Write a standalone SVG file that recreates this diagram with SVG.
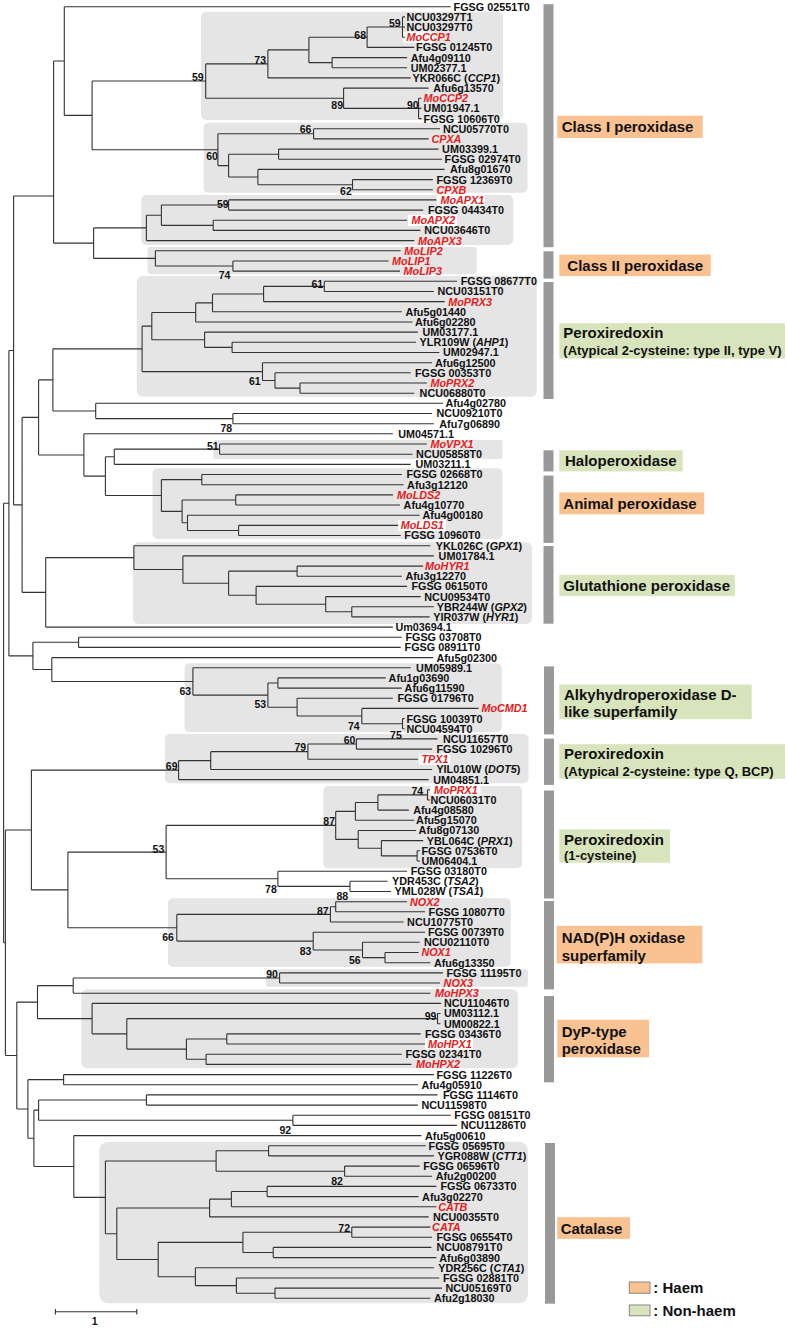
<svg xmlns="http://www.w3.org/2000/svg" width="787" height="1328" viewBox="0 0 787 1328">
<style>
.br{fill:none;stroke:#333;stroke-width:1.1}
text{font-family:"Liberation Sans",Arial,sans-serif;font-weight:bold;fill:#111}
.lf{font-size:10.8px}
.rd{fill:#e3201b;font-style:italic}
.bs{font-size:10.5px;text-anchor:end}
.cl{fill:#e5e5e5}
.wb{fill:#fff}
.bar{fill:#999}
.hm{fill:#fac191}
.nh{fill:#d8e4bc}
.ct{font-size:15px}
.cs{font-size:13px}
.sw{stroke:#888;stroke-width:1}
i{font-style:italic}
</style>
<g id="clade-boxes">
<rect class="cl" x="201.1" y="11.7" width="301.8" height="108.3" rx="5"/>
<rect class="cl" x="203.6" y="122.7" width="323.9" height="70" rx="5"/>
<rect class="cl" x="141.4" y="195" width="371.8" height="50" rx="5"/>
<rect class="cl" x="147.5" y="246.7" width="329.3" height="27.6" rx="4"/>
<rect class="cl" x="136.8" y="276" width="400" height="120.7" rx="6"/>
<rect class="cl" x="213.2" y="440" width="289.3" height="19" rx="2"/>
<rect class="cl" x="152.5" y="468.3" width="350" height="70.7" rx="5"/>
<rect class="cl" x="132.9" y="542.3" width="399.2" height="81.7" rx="6"/>
<rect class="cl" x="184.6" y="663.3" width="317.2" height="69" rx="5"/>
<rect class="cl" x="165" y="734" width="363.6" height="49.3" rx="5"/>
<rect class="cl" x="323.2" y="786" width="198.9" height="82.3" rx="5"/>
<rect class="cl" x="167.9" y="898.3" width="342.8" height="68.4" rx="5"/>
<rect class="cl" x="266.1" y="969.3" width="261.8" height="17.4" rx="2"/>
<rect class="cl" x="81.4" y="989.3" width="436.5" height="79" rx="6"/>
<rect class="cl" x="99.3" y="1141.7" width="428.6" height="161.6" rx="9"/>
<rect class="wb" x="403" y="31.7" width="31" height="11"/>
<rect class="wb" x="437" y="194.4" width="48" height="11"/>
<rect class="wb" x="408" y="214.8" width="49" height="11"/>
<rect class="wb" x="398" y="519.9" width="48" height="11"/>
<rect class="wb" x="419" y="753.8" width="31" height="11"/>
<rect class="wb" x="430.5" y="784.3" width="50" height="11"/>
<rect class="wb" x="425" y="1038.5" width="48" height="11"/>
</g>
<g id="connectors">
<path class="br" d="M402.5 16.9V37.2M402.5 16.9H405M402.5 27H405M402.5 37.2H405
M367.1 27V47.4M367.1 27H402.5M367.1 47.4H414.3
M332.1 57.6V67.7M332.1 57.6H407.1M332.1 67.7H407.1
M308.9 37.2V62.65M308.9 37.2H367.1M308.9 62.65H332.1
M267.9 49.9V77.9M267.9 49.9H308.9M267.9 77.9H410.7
M418.6 98.2V118.6M418.6 98.2H421.5M418.6 108.4H421.5M418.6 118.6H421.5
M343.6 88.1V108.4M343.6 88.1H428.6M343.6 108.4H418.6
M205.7 63.9V98.25M205.7 63.9H267.9M205.7 98.25H343.6
M313.6 128.7V138.9M313.6 128.7H440M313.6 138.9H428.6
M278.6 149.1V159.3M278.6 149.1H438.6M278.6 159.3H442.1
M352.5 179.6V189.8M352.5 179.6H432.9M352.5 189.8H432.9
M257.9 169.4V184.7M257.9 169.4H444.6M257.9 184.7H352.5
M228.6 154.2V177.05M228.6 154.2H278.6M228.6 177.05H257.9
M217.9 133.8V165.6M217.9 133.8H313.6M217.9 165.6H228.6
M92.1 81.05V149.7M92.1 81.05H205.7M92.1 149.7H217.9
M64.3 6.7V115.4M64.3 6.7H450.7M64.3 115.4H92.1
M228.6 199.9V210.1M228.6 199.9H436.4M228.6 210.1H423.2
M213.2 220.3V230.4M213.2 220.3H407.1M213.2 230.4H420.4
M161.4 205V225.35M161.4 205H228.6M161.4 225.35H213.2
M146.4 215.2V240.6M146.4 215.2H161.4M146.4 240.6H414.3
M232.9 261V271.1M232.9 261H388.6M232.9 271.1H400
M155.4 250.8V266.05M155.4 250.8H400.7M155.4 266.05H232.9
M93.6 227.9V258.4M93.6 227.9H146.4M93.6 258.4H155.4
M53.6 61.05V243.15M53.6 61.05H64.3M53.6 243.15H93.6
M324.3 281.3V291.5M324.3 281.3H457.1M324.3 291.5H433.9
M263.6 286.4V301.6M263.6 286.4H324.3M263.6 301.6H444.6
M212.5 294V311.8M212.5 294H263.6M212.5 311.8H401.8
M195.7 302.9V322M195.7 302.9H212.5M195.7 322H412.5
M232.1 342.3V352.5M232.1 342.3H416.1M232.1 352.5H439.3
M204.6 332.1V347.4M204.6 332.1H417.9M204.6 347.4H232.1
M151.8 312.45V339.75M151.8 312.45H195.7M151.8 339.75H204.6
M300 383V393.2M300 383H426.8M300 393.2H414.3
M275 372.8V388.1M275 372.8H410.7M275 388.1H300
M262.5 362.7V380.45M262.5 362.7H432.1M262.5 380.45H275
M142.1 326.1V371.6M142.1 326.1H151.8M142.1 371.6H262.5
M232.9 413.5V423.7M232.9 413.5H432.1M232.9 423.7H433.9
M95.7 403.3V418.6M95.7 403.3H442.9M95.7 418.6H232.9
M52.9 348.85V410.95M52.9 348.85H142.1M52.9 410.95H95.7
M219.6 444V454.2M219.6 444H426.8M219.6 454.2H412.5
M114.3 449.1V464.4M114.3 449.1H219.6M114.3 464.4H410.7
M201.8 474.5V484.7M201.8 474.5H401.8M201.8 484.7H403.6
M235.7 494.9V505M235.7 494.9H392.9M235.7 505H400
M238.6 525.4V535.5M238.6 525.4H398.2M238.6 535.5H400.7
M187.5 515.2V530.45M187.5 515.2H419.6M187.5 530.45H238.6
M182.1 499.95V522.8M182.1 499.95H235.7M182.1 522.8H187.5
M161.4 479.6V511.4M161.4 479.6H201.8M161.4 511.4H182.1
M105.4 456.75V495.5M105.4 456.75H114.3M105.4 495.5H161.4
M83.9 433.8V476.1M83.9 433.8H392.9M83.9 476.1H105.4
M38.6 379.9V454.95M38.6 379.9H52.9M38.6 454.95H83.9
M351.8 606.7V616.9M351.8 606.7H433.9M351.8 616.9H429.6
M325.7 596.6V611.8M325.7 596.6H420.7M325.7 611.8H351.8
M256.1 586.4V604.2M256.1 586.4H407.1M256.1 604.2H325.7
M297.1 566.1V576.2M297.1 566.1H423.2M297.1 576.2H401.8
M228.6 571.15V595.3M228.6 571.15H297.1M228.6 595.3H256.1
M182.9 555.9V583.2M182.9 555.9H433.9M182.9 583.2H228.6
M133.9 545.7V569.55M133.9 545.7H430.4M133.9 569.55H182.9
M45.7 557.6V627.1M45.7 557.6H133.9M45.7 627.1H392.9
M22.1 417.4V592.35M22.1 417.4H38.6M22.1 592.35H45.7
M13.6 196V504.9M13.6 196H53.6M13.6 504.9H22.1
M78.6 637.2V647.4M78.6 637.2H401.8M78.6 647.4H400.7
M277.9 677.9V688.1M277.9 677.9H385.7M277.9 688.1H401.8
M402.5 718.6V728.8M402.5 718.6H404.5M402.5 728.8H404.5
M361.8 708.4V723.7M361.8 708.4H478.6M361.8 723.7H402.5
M297.1 698.3V716.05M297.1 698.3H392.9M297.1 716.05H361.8
M267.9 683V707.2M267.9 683H277.9M267.9 707.2H297.1
M192.9 667.8V695.1M192.9 667.8H410.7M192.9 695.1H267.9
M51.8 657.6V681.45M51.8 657.6H433.2M51.8 681.45H192.9
M32.9 642.3V669.5M32.9 642.3H78.6M32.9 669.5H51.8
M8.9 350.45V655.9M8.9 350.45H13.6M8.9 655.9H32.9
M356.4 738.9V749.1M356.4 738.9H437.5M356.4 749.1H432.1
M307.9 744V759.3M307.9 744H356.4M307.9 759.3H417.9
M210.7 751.65V769.5M210.7 751.65H307.9M210.7 769.5H432.1
M178.6 760.6V779.6M178.6 760.6H210.7M178.6 779.6H428.6
M427.5 789.8V800M427.5 789.8H430M427.5 800H430
M377.9 794.9V810.1M377.9 794.9H427.5M377.9 810.1H408.9
M355.4 802.5V820.3M355.4 802.5H377.9M355.4 820.3H414.3
M417.1 850.8V861M417.1 850.8H420M417.1 861H420
M381.4 840.6V855.9M381.4 840.6H423.2M381.4 855.9H417.1
M358.2 830.5V848.25M358.2 830.5H416.1M358.2 848.25H381.4
M335.7 811.4V839.4M335.7 811.4H355.4M335.7 839.4H358.2
M350 881.3V891.5M350 881.3H387.5M350 891.5H391.1
M277.9 871.2V886.4M277.9 871.2H407.1M277.9 886.4H350
M166.1 825.4V878.8M166.1 825.4H335.7M166.1 878.8H277.9
M335.7 901.7V911.8M335.7 901.7H407.1M335.7 911.8H425
M330.4 906.75V922M330.4 906.75H335.7M330.4 922H403.6
M385 952.5V962.7M385 952.5H418.6M385 962.7H430.4
M362.5 942.3V957.6M362.5 942.3H419.6M362.5 957.6H385
M313.2 932.2V949.95M313.2 932.2H425M313.2 949.95H362.5
M176.8 914.4V941.1M176.8 914.4H330.4M176.8 941.1H313.2
M67.9 852.1V927.75M67.9 852.1H166.1M67.9 927.75H176.8
M31.4 770.1V889.9M31.4 770.1H178.6M31.4 889.9H67.9
M279.6 972.9V983M279.6 972.9H442.9M279.6 983H440
M73.2 977.95V993.2M73.2 977.95H279.6M73.2 993.2H430.4
M437.5 1013.5V1023.7M437.5 1013.5H440.5M437.5 1023.7H440.5
M226.8 1033.9V1044M226.8 1033.9H420.7M226.8 1044H425
M206.1 1054.2V1064.4M206.1 1054.2H401.8M206.1 1064.4H411.4
M186.4 1038.95V1059.3M186.4 1038.95H226.8M186.4 1059.3H206.1
M126.8 1018.6V1049.1M126.8 1018.6H437.5M126.8 1049.1H186.4
M92.1 1003.4V1033.85M92.1 1003.4H441.1M92.1 1033.85H126.8
M37.5 985.6V1018.6M37.5 985.6H73.2M37.5 1018.6H92.1
M63.6 1074.6V1084.7M63.6 1074.6H433.9M63.6 1084.7H417.9
M146.4 1094.9V1105.1M146.4 1094.9H437.5M146.4 1105.1H417.9
M292.9 1115.2V1125.4M292.9 1115.2H450.7M292.9 1125.4H457.1
M38.6 1100V1120.3M38.6 1100H146.4M38.6 1120.3H292.9
M268.6 1145.7V1155.9M268.6 1145.7H425.7M268.6 1155.9H433.9
M344.6 1166.1V1176.3M344.6 1166.1H419.6M344.6 1176.3H432.1
M216.1 1150.8V1171.2M216.1 1150.8H268.6M216.1 1171.2H344.6
M267.1 1186.4V1196.6M267.1 1186.4H436.4M267.1 1196.6H418.6
M231.4 1191.5V1206.8M231.4 1191.5H267.1M231.4 1206.8H436.4
M209.6 1199.15V1216.9M209.6 1199.15H231.4M209.6 1216.9H428.6
M351.8 1227.1V1237.3M351.8 1227.1H430.4M351.8 1237.3H432.1
M273.2 1247.4V1257.6M273.2 1247.4H431.4M273.2 1257.6H436.4
M242.9 1232.2V1252.5M242.9 1232.2H351.8M242.9 1252.5H273.2
M275 1288.1V1298.3M275 1288.1H442.1M275 1298.3H430.4
M236.4 1278V1293.2M236.4 1278H439.3M236.4 1293.2H275
M195.4 1267.8V1285.6M195.4 1267.8H433.9M195.4 1285.6H236.4
M158.2 1242.35V1276.7M158.2 1242.35H242.9M158.2 1276.7H195.4
M116.8 1208V1259.5M116.8 1208H209.6M116.8 1259.5H158.2
M105.4 1161V1233.75M105.4 1161H216.1M105.4 1233.75H116.8
M73.8 1135.6V1197.4M73.8 1135.6H421.4M73.8 1197.4H105.4
M33.9 1110.15V1166.5M33.9 1110.15H38.6M33.9 1166.5H73.8
M27.9 1079.65V1138.3M27.9 1079.65H63.6M27.9 1138.3H33.9
M16.8 1002.1V1109M16.8 1002.1H37.5M16.8 1109H27.9
M5.4 830V1055.55M5.4 830H31.4M5.4 1055.55H16.8
M3.6 503.2V942.8M3.6 503.2H8.9M3.6 942.8H5.4"/>
</g>
<g id="bootstrap">
<text class="bs" x="203.6" y="80.5">59</text>
<text class="bs" x="266" y="63.5">73</text>
<text class="bs" x="366" y="38.5">68</text>
<text class="bs" x="400.7" y="27">59</text>
<text class="bs" x="343" y="108.5">89</text>
<text class="bs" x="418.6" y="108.5">90</text>
<text class="bs" x="311.4" y="132.5">66</text>
<text class="bs" x="217.9" y="159.5">60</text>
<text class="bs" x="351.8" y="194.5">62</text>
<text class="bs" x="228.6" y="207.5">59</text>
<text class="bs" x="230.4" y="278.5">74</text>
<text class="bs" x="323.2" y="287.5">61</text>
<text class="bs" x="260.7" y="385">61</text>
<text class="bs" x="232.1" y="432">78</text>
<text class="bs" x="218.6" y="450">51</text>
<text class="bs" x="191.1" y="695">63</text>
<text class="bs" x="266.1" y="708">53</text>
<text class="bs" x="359.6" y="730">74</text>
<text class="bs" x="401.8" y="738.5">75</text>
<text class="bs" x="355.4" y="744">60</text>
<text class="bs" x="306.1" y="750.8">79</text>
<text class="bs" x="177.5" y="769.5">69</text>
<text class="bs" x="423.2" y="795">74</text>
<text class="bs" x="335" y="825">87</text>
<text class="bs" x="164.3" y="853">53</text>
<text class="bs" x="276.8" y="893">78</text>
<text class="bs" x="348.2" y="900">88</text>
<text class="bs" x="328.6" y="915">87</text>
<text class="bs" x="173.9" y="941">66</text>
<text class="bs" x="311.4" y="955">83</text>
<text class="bs" x="360.7" y="963.5">56</text>
<text class="bs" x="277.9" y="978">90</text>
<text class="bs" x="436.4" y="1019.5">99</text>
<text class="bs" x="291.1" y="1134">92</text>
<text class="bs" x="342.9" y="1184.5">82</text>
<text class="bs" x="350" y="1231.8">72</text>
</g>
<g id="leaves">
<g id="L1"><text class="lf" x="453.6" y="10.6">FGSG 02551T0</text></g>
<g id="L2"><text class="lf" x="406.4" y="20.8">NCU03297T1</text></g>
<g id="L3"><text class="lf" x="406.4" y="30.9">NCU03297T0</text></g>
<g id="L4"><text class="lf rd" x="406.4" y="41.1">MoCCP1</text></g>
<g id="L5"><text class="lf" x="416.1" y="51.3">FGSG 01245T0</text></g>
<g id="L6"><text class="lf" x="410.7" y="61.5">Afu4g09110</text></g>
<g id="L7"><text class="lf" x="410.7" y="71.6">UM02377.1</text></g>
<g id="L8"><text class="lf" x="412.5" y="81.8">YKR066C (<tspan font-style="italic">CCP1</tspan>)</text></g>
<g id="L9"><text class="lf" x="433.2" y="92">Afu6g13570</text></g>
<g id="L10"><text class="lf rd" x="423.6" y="102.1">MoCCP2</text></g>
<g id="L11"><text class="lf" x="423.6" y="112.3">UM01947.1</text></g>
<g id="L12"><text class="lf" x="423.6" y="122.5">FGSG 10606T0</text></g>
<g id="L13"><text class="lf" x="442.9" y="132.6">NCU05770T0</text></g>
<g id="L14"><text class="lf rd" x="431.4" y="142.8">CPXA</text></g>
<g id="L15"><text class="lf" x="442.1" y="153">UM03399.1</text></g>
<g id="L16"><text class="lf" x="444.6" y="163.2">FGSG 02974T0</text></g>
<g id="L17"><text class="lf" x="450" y="173.3">Afu8g01670</text></g>
<g id="L18"><text class="lf" x="436.4" y="183.5">FGSG 12369T0</text></g>
<g id="L19"><text class="lf rd" x="436.4" y="193.7">CPXB</text></g>
<g id="L20"><text class="lf rd" x="440.4" y="203.8">MoAPX1</text></g>
<g id="L21"><text class="lf" x="427.9" y="214">FGSG 04434T0</text></g>
<g id="L22"><text class="lf rd" x="411.4" y="224.2">MoAPX2</text></g>
<g id="L23"><text class="lf" x="424.3" y="234.3">NCU03646T0</text></g>
<g id="L24"><text class="lf rd" x="417.9" y="244.5">MoAPX3</text></g>
<g id="L25"><text class="lf rd" x="404.3" y="254.7">MoLIP2</text></g>
<g id="L26"><text class="lf rd" x="392.1" y="264.9">MoLIP1</text></g>
<g id="L27"><text class="lf rd" x="403.6" y="275">MoLIP3</text></g>
<g id="L28"><text class="lf" x="460.7" y="285.2">FGSG 08677T0</text></g>
<g id="L29"><text class="lf" x="437.5" y="295.4">NCU03151T0</text></g>
<g id="L30"><text class="lf rd" x="448.2" y="305.5">MoPRX3</text></g>
<g id="L31"><text class="lf" x="405.4" y="315.7">Afu5g01440</text></g>
<g id="L32"><text class="lf" x="415" y="325.9">Afu6g02280</text></g>
<g id="L33"><text class="lf" x="422.5" y="336">UM03177.1</text></g>
<g id="L34"><text class="lf" x="419.6" y="346.2">YLR109W (<tspan font-style="italic">AHP1</tspan>)</text></g>
<g id="L35"><text class="lf" x="442.9" y="356.4">UM02947.1</text></g>
<g id="L36"><text class="lf" x="435" y="366.6">Afu6g12500</text></g>
<g id="L37"><text class="lf" x="415" y="376.7">FGSG 00353T0</text></g>
<g id="L38"><text class="lf rd" x="430.4" y="386.9">MoPRX2</text></g>
<g id="L39"><text class="lf" x="419.6" y="397.1">NCU06880T0</text></g>
<g id="L40"><text class="lf" x="445.4" y="407.2">Afu4g02780</text></g>
<g id="L41"><text class="lf" x="436.4" y="417.4">NCU09210T0</text></g>
<g id="L42"><text class="lf" x="439.3" y="427.6">Afu7g06890</text></g>
<g id="L43"><text class="lf" x="398.2" y="437.7">UM04571.1</text></g>
<g id="L44"><text class="lf rd" x="430.4" y="447.9">MoVPX1</text></g>
<g id="L45"><text class="lf" x="416.1" y="458.1">NCU05858T0</text></g>
<g id="L46"><text class="lf" x="415.4" y="468.3">UM03211.1</text></g>
<g id="L47"><text class="lf" x="406.4" y="478.4">FGSG 02668T0</text></g>
<g id="L48"><text class="lf" x="407.1" y="488.6">Afu3g12120</text></g>
<g id="L49"><text class="lf rd" x="397.1" y="498.8">MoLDS2</text></g>
<g id="L50"><text class="lf" x="403.6" y="508.9">Afu4g10770</text></g>
<g id="L51"><text class="lf" x="422.5" y="519.1">Afu4g00180</text></g>
<g id="L52"><text class="lf rd" x="400.7" y="529.3">MoLDS1</text></g>
<g id="L53"><text class="lf" x="404.3" y="539.4">FGSG 10960T0</text></g>
<g id="L54"><text class="lf" x="435.7" y="549.6">YKL026C (<tspan font-style="italic">GPX1</tspan>)</text></g>
<g id="L55"><text class="lf" x="438.6" y="559.8">UM01784.1</text></g>
<g id="L56"><text class="lf rd" x="425" y="570">MoHYR1</text></g>
<g id="L57"><text class="lf" x="405.4" y="580.1">Afu3g12270</text></g>
<g id="L58"><text class="lf" x="411.4" y="590.3">FGSG 06150T0</text></g>
<g id="L59"><text class="lf" x="424.3" y="600.5">NCU09534T0</text></g>
<g id="L60"><text class="lf" x="436.8" y="610.6">YBR244W (<tspan font-style="italic">GPX2</tspan>)</text></g>
<g id="L61"><text class="lf" x="433.2" y="620.8">YIR037W (<tspan font-style="italic">HYR1</tspan>)</text></g>
<g id="L62"><text class="lf" x="395.4" y="631">Um03694.1</text></g>
<g id="L63"><text class="lf" x="405.4" y="641.1">FGSG 03708T0</text></g>
<g id="L64"><text class="lf" x="404.6" y="651.3">FGSG 08911T0</text></g>
<g id="L65"><text class="lf" x="436.4" y="661.5">Afu5g02300</text></g>
<g id="L66"><text class="lf" x="416.1" y="671.7">UM05989.1</text></g>
<g id="L67"><text class="lf" x="388.6" y="681.8">Afu1g03690</text></g>
<g id="L68"><text class="lf" x="404.6" y="692">Afu6g11590</text></g>
<g id="L69"><text class="lf" x="397.5" y="702.2">FGSG 01796T0</text></g>
<g id="L70"><text class="lf rd" x="481.4" y="712.3">MoCMD1</text></g>
<g id="L71"><text class="lf" x="406.4" y="722.5">FGSG 10039T0</text></g>
<g id="L72"><text class="lf" x="406.4" y="732.7">NCU04594T0</text></g>
<g id="L73"><text class="lf" x="442.9" y="742.8">NCU11657T0</text></g>
<g id="L74"><text class="lf" x="436.4" y="753">FGSG 10296T0</text></g>
<g id="L75"><text class="lf rd" x="421.4" y="763.2">TPX1</text></g>
<g id="L76"><text class="lf" x="436.4" y="773.4">YIL010W (<tspan font-style="italic">DOT5</tspan>)</text></g>
<g id="L77"><text class="lf" x="433.2" y="783.5">UM04851.1</text></g>
<g id="L78"><text class="lf rd" x="433.9" y="793.7">MoPRX1</text></g>
<g id="L79"><text class="lf" x="430.4" y="803.9">NCU06031T0</text></g>
<g id="L80"><text class="lf" x="413.2" y="814">Afu4g08580</text></g>
<g id="L81"><text class="lf" x="416.1" y="824.2">Afu5g15070</text></g>
<g id="L82"><text class="lf" x="418.6" y="834.4">Afu8g07130</text></g>
<g id="L83"><text class="lf" x="426.8" y="844.5">YBL064C (<tspan font-style="italic">PRX1</tspan>)</text></g>
<g id="L84"><text class="lf" x="421.4" y="854.7">FGSG 07536T0</text></g>
<g id="L85"><text class="lf" x="421.4" y="864.9">UM06404.1</text></g>
<g id="L86"><text class="lf" x="410.7" y="875.1">FGSG 03180T0</text></g>
<g id="L87"><text class="lf" x="392.1" y="885.2">YDR453C (<tspan font-style="italic">TSA2</tspan>)</text></g>
<g id="L88"><text class="lf" x="394.6" y="895.4">YML028W (<tspan font-style="italic">TSA1</tspan>)</text></g>
<g id="L89"><text class="lf rd" x="410" y="905.6">NOX2</text></g>
<g id="L90"><text class="lf" x="428.6" y="915.7">FGSG 10807T0</text></g>
<g id="L91"><text class="lf" x="407.1" y="925.9">NCU10775T0</text></g>
<g id="L92"><text class="lf" x="427.9" y="936.1">FGSG 00739T0</text></g>
<g id="L93"><text class="lf" x="423.9" y="946.2">NCU02110T0</text></g>
<g id="L94"><text class="lf rd" x="421.4" y="956.4">NOX1</text></g>
<g id="L95"><text class="lf" x="433.9" y="966.6">Afu6g13350</text></g>
<g id="L96"><text class="lf" x="446.4" y="976.8">FGSG 11195T0</text></g>
<g id="L97"><text class="lf rd" x="443.6" y="986.9">NOX3</text></g>
<g id="L98"><text class="lf rd" x="435" y="997.1">MoHPX3</text></g>
<g id="L99"><text class="lf" x="443.9" y="1007.3">NCU11046T0</text></g>
<g id="L100"><text class="lf" x="443.9" y="1017.4">UM03112.1</text></g>
<g id="L101"><text class="lf" x="443.9" y="1027.6">UM00822.1</text></g>
<g id="L102"><text class="lf" x="425" y="1037.8">FGSG 03436T0</text></g>
<g id="L103"><text class="lf rd" x="427.9" y="1047.9">MoHPX1</text></g>
<g id="L104"><text class="lf" x="405.4" y="1058.1">FGSG 02341T0</text></g>
<g id="L105"><text class="lf rd" x="416.1" y="1068.3">MoHPX2</text></g>
<g id="L106"><text class="lf" x="436.4" y="1078.5">FGSG 11226T0</text></g>
<g id="L107"><text class="lf" x="421.4" y="1088.6">Afu4g05910</text></g>
<g id="L108"><text class="lf" x="442.9" y="1098.8">FGSG 11146T0</text></g>
<g id="L109"><text class="lf" x="421.4" y="1109">NCU11598T0</text></g>
<g id="L110"><text class="lf" x="454.3" y="1119.1">FGSG 08151T0</text></g>
<g id="L111"><text class="lf" x="460.7" y="1129.3">NCU11286T0</text></g>
<g id="L112"><text class="lf" x="425" y="1139.5">Afu5g00610</text></g>
<g id="L113"><text class="lf" x="428.6" y="1149.6">FGSG 05695T0</text></g>
<g id="L114"><text class="lf" x="437.5" y="1159.8">YGR088W (<tspan font-style="italic">CTT1</tspan>)</text></g>
<g id="L115"><text class="lf" x="423.2" y="1170">FGSG 06596T0</text></g>
<g id="L116"><text class="lf" x="435.7" y="1180.2">Afu2g00200</text></g>
<g id="L117"><text class="lf" x="440.4" y="1190.3">FGSG 06733T0</text></g>
<g id="L118"><text class="lf" x="422.1" y="1200.5">Afu3g02270</text></g>
<g id="L119"><text class="lf rd" x="438.2" y="1210.7">CATB</text></g>
<g id="L120"><text class="lf" x="432.9" y="1220.8">NCU00355T0</text></g>
<g id="L121"><text class="lf rd" x="432.1" y="1231">CATA</text></g>
<g id="L122"><text class="lf" x="436.4" y="1241.2">FGSG 06554T0</text></g>
<g id="L123"><text class="lf" x="436.4" y="1251.3">NCU08791T0</text></g>
<g id="L124"><text class="lf" x="439.3" y="1261.5">Afu6g03890</text></g>
<g id="L125"><text class="lf" x="438.2" y="1271.7">YDR256C (<tspan font-style="italic">CTA1</tspan>)</text></g>
<g id="L126"><text class="lf" x="442.9" y="1281.9">FGSG 02881T0</text></g>
<g id="L127"><text class="lf" x="445.4" y="1292">NCU05169T0</text></g>
<g id="L128"><text class="lf" x="433.9" y="1302.2">Afu2g18030</text></g>
</g>
<g id="bars">
<rect class="bar" x="543.5" y="4.2" width="10" height="243"/>
<rect class="bar" x="543.5" y="251.3" width="10" height="27.3"/>
<rect class="bar" x="543.5" y="282" width="10" height="117"/>
<rect class="bar" x="543.5" y="450.3" width="10" height="21.1"/>
<rect class="bar" x="543.5" y="475.6" width="10" height="67.3"/>
<rect class="bar" x="543.5" y="546" width="10" height="77.7"/>
<rect class="bar" x="544" y="666.4" width="10" height="68"/>
<rect class="bar" x="544" y="738.6" width="10" height="46.3"/>
<rect class="bar" x="544" y="790.5" width="10" height="108"/>
<rect class="bar" x="544" y="901" width="10" height="88.4"/>
<rect class="bar" x="544" y="996" width="10" height="86.3"/>
<rect class="bar" x="545" y="1143" width="10" height="160.7"/>
</g>
<g id="cat-class1"><rect class="hm" x="557.3" y="115.7" width="145.4" height="22.3"/><text class="ct" x="561.7" y="132.2">Class I peroxidase</text></g>
<g id="cat-class2"><rect class="hm" x="559.3" y="254.6" width="151.4" height="21.5"/><text class="ct" x="567.3" y="270.8">Class II peroxidase</text></g>
<g id="cat-prx25"><rect class="nh" x="559.3" y="323.2" width="225.7" height="35.4"/><text class="ct" x="563.3" y="338">Peroxiredoxin</text><text class="cs" x="563.3" y="354.5">(Atypical 2-cysteine: type II, type V)</text></g>
<g id="cat-halo"><rect class="nh" x="559.3" y="450.3" width="123.4" height="21.1"/><text class="ct" x="565" y="466.3">Haloperoxidase</text></g>
<g id="cat-animal"><rect class="hm" x="559.3" y="492.4" width="145" height="21.9"/><text class="ct" x="563.3" y="508.7">Animal peroxidase</text></g>
<g id="cat-gpx"><rect class="nh" x="559.3" y="575" width="175.7" height="21"/><text class="ct" x="563.3" y="590.9">Glutathione peroxidase</text></g>
<g id="cat-ahpd"><rect class="nh" x="559.3" y="684.6" width="192.4" height="34.6"/><text class="ct" x="564" y="699.7">Alkyhydroperoxidase D-</text><text class="ct" x="564" y="716.5">like superfamily</text></g>
<g id="cat-prxq"><rect class="nh" x="559.3" y="744.2" width="225.7" height="34.6"/><text class="ct" x="564" y="759">Peroxiredoxin</text><text class="cs" x="564" y="775.8">(Atypical 2-cysteine: type Q, BCP)</text></g>
<g id="cat-prx1"><rect class="nh" x="559.3" y="829.4" width="110.7" height="33.3"/><text class="ct" x="564" y="844.5">Peroxiredoxin</text><text class="cs" x="564" y="860.3">(1-cysteine)</text></g>
<g id="cat-nox"><rect class="hm" x="556.7" y="925.8" width="145.6" height="37.6"/><text class="ct" x="561.7" y="943.1">NAD(P)H oxidase</text><text class="ct" x="561.7" y="960.8">superfamily</text></g>
<g id="cat-dyp"><rect class="hm" x="557.3" y="1019.7" width="91.7" height="37.6"/><text class="ct" x="561.7" y="1037">DyP-type</text><text class="ct" x="561.7" y="1054.3">peroxidase</text></g>
<g id="cat-catalase"><rect class="hm" x="557.3" y="1217.2" width="72.7" height="21.7"/><text class="ct" x="560.7" y="1233.5">Catalase</text></g>
<g id="legend">
<rect class="hm sw" x="629.3" y="1282" width="20.7" height="11.3"/><text class="ct" x="653.3" y="1292.5">: Haem</text>
<rect class="nh sw" x="629.3" y="1305" width="20.7" height="10.8"/><text class="ct" x="653.3" y="1315.5">: Non-haem</text>
</g>
<g id="scale-bar">
<path class="br" d="M55.4 1311.7H136.8M55.4 1309V1314.4M136.8 1309V1314.4"/>
<text class="bs" x="94.6" y="1324.8" text-anchor="middle" style="text-anchor:middle">1</text>
</g>
</svg>
